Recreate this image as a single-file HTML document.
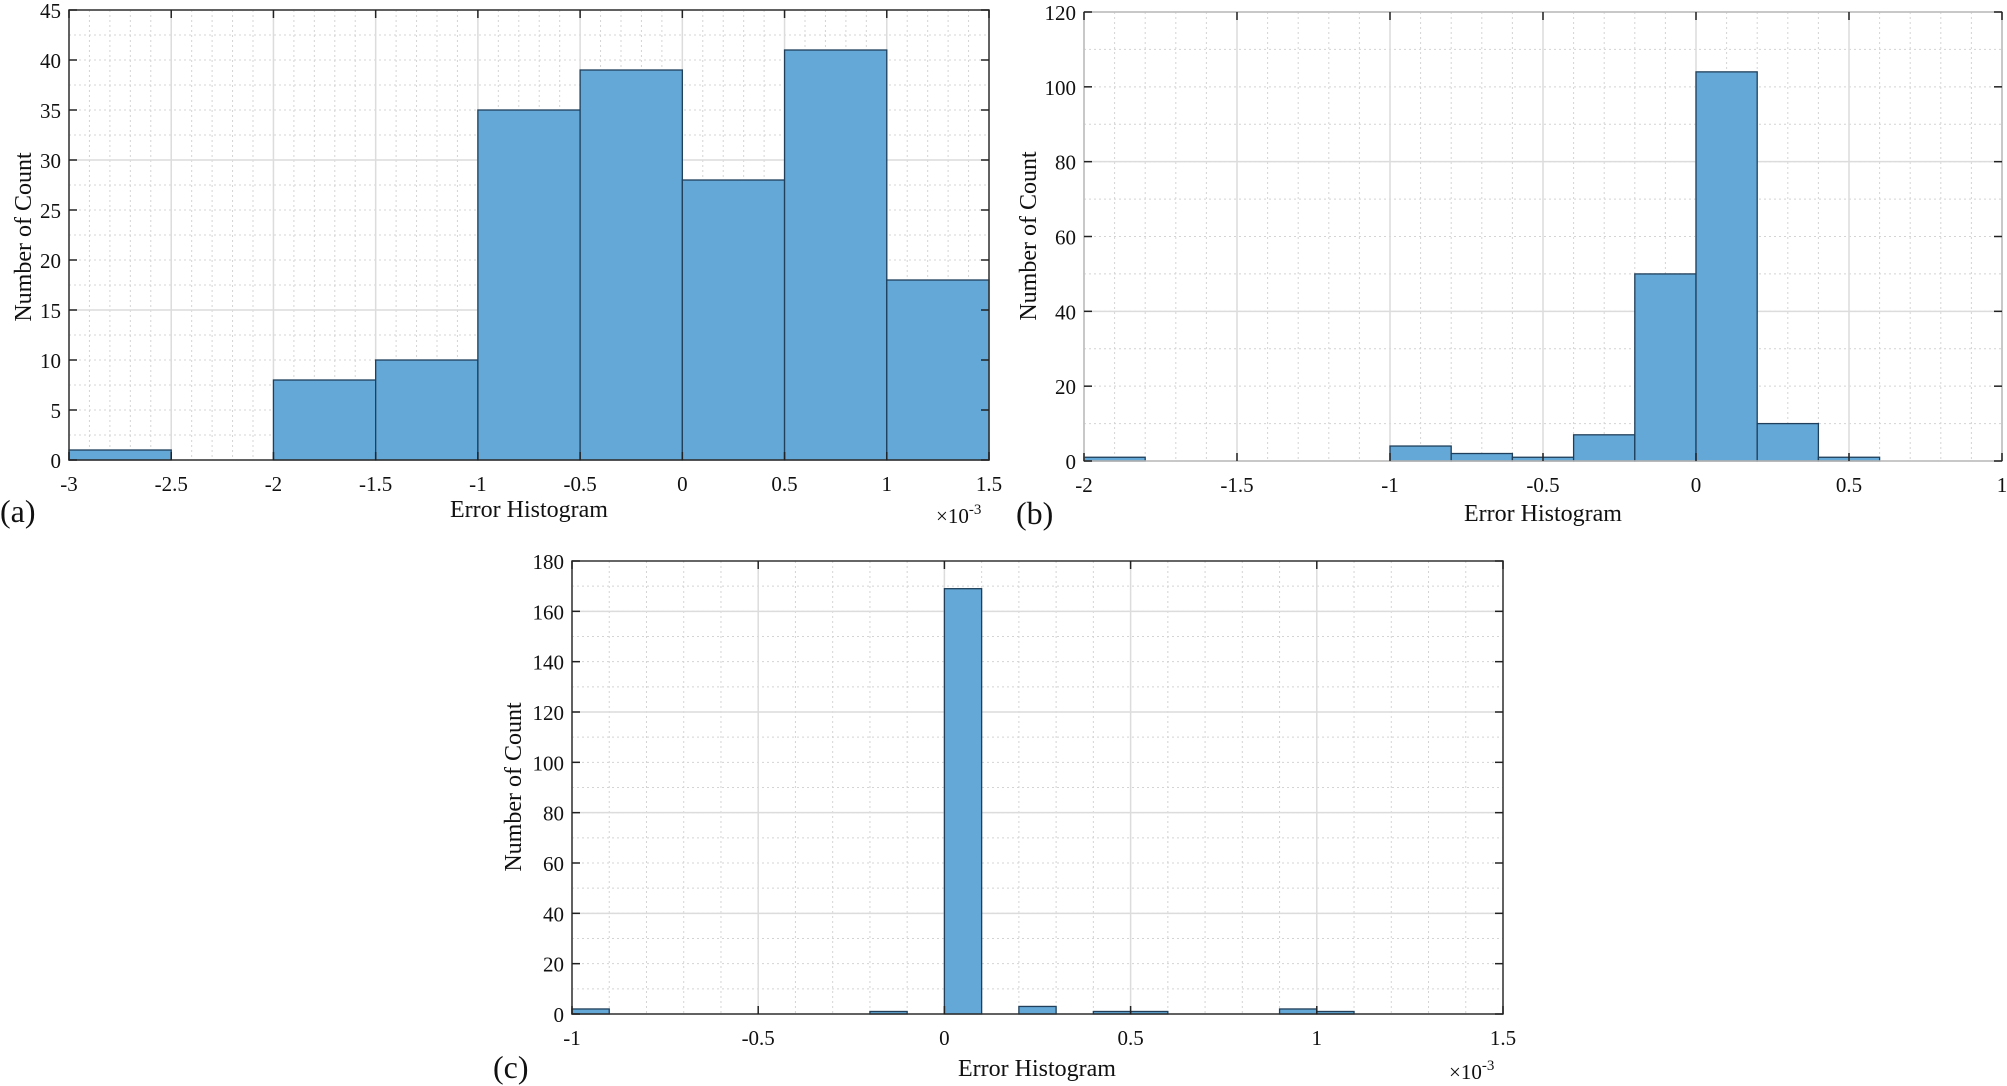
<!DOCTYPE html>
<html><head><meta charset="utf-8"><style>
html,body{margin:0;padding:0;background:#fff;width:2007px;height:1086px;overflow:hidden}
svg text{font-family:"Liberation Serif",serif;fill:#111}
</style></head><body>
<svg id="s" width="2007" height="1086" xmlns="http://www.w3.org/2000/svg"></svg>
<script>
const s=document.getElementById('s');let h='';
function panel(o){
 const {L,R,T,B,x0,x1,y1,xmaj,xmin,ymaj,ymin,bars,bw,xt,yt}=o;
 const X=v=>L+(v-x0)/(x1-x0)*(R-L), Y=v=>B-v/y1*(B-T);
 // minor grid
 for(let v=x0;v<=x1+1e-9;v+=xmin){const x=X(v);h+=`<line x1="${x}" y1="${T}" x2="${x}" y2="${B}" stroke="#d4d4d4" stroke-width="1" stroke-dasharray="2,3"/>`;}
 for(let v=0;v<=y1+1e-9;v+=ymin){const y=Y(v);h+=`<line x1="${L}" y1="${y}" x2="${R}" y2="${y}" stroke="#d4d4d4" stroke-width="1" stroke-dasharray="2,3"/>`;}
 for(let v=x0;v<=x1+1e-9;v+=xmaj){const x=X(v);h+=`<line x1="${x}" y1="${T}" x2="${x}" y2="${B}" stroke="#dcdcdc" stroke-width="1.5"/>`;}
 for(let v=0;v<=y1+1e-9;v+=ymaj){const y=Y(v);h+=`<line x1="${L}" y1="${y}" x2="${R}" y2="${y}" stroke="#dcdcdc" stroke-width="1.5"/>`;}
 bars.forEach(b=>{const [a,c]=b;const x=X(a),w=X(a+bw)-x,y=Y(c);
  h+=`<rect x="${x}" y="${y}" width="${w}" height="${B-y}" fill="#64a8d8" stroke="#1f3f5a" stroke-width="1.3"/>`;});
 h+=`<rect x="${L}" y="${T}" width="${R-L}" height="${B-T}" fill="none" stroke="${o.bc||'#333'}" stroke-width="1.5"/>`;
 xt.forEach(v=>{const x=X(v);h+=`<line x1="${x}" y1="${T}" x2="${x}" y2="${T+8}" stroke="#222" stroke-width="1.5"/><line x1="${x}" y1="${B}" x2="${x}" y2="${B-8}" stroke="#222" stroke-width="1.5"/><text x="${x}" y="${B+31}" font-size="21" text-anchor="middle">${v}</text>`;});
 yt.forEach(v=>{const y=Y(v);h+=`<line x1="${L}" y1="${y}" x2="${L+8}" y2="${y}" stroke="#222" stroke-width="1.5"/><line x1="${R}" y1="${y}" x2="${R-8}" y2="${y}" stroke="#222" stroke-width="1.5"/><text x="${L-8}" y="${y+8}" font-size="21" text-anchor="end">${v}</text>`;});
}
panel({L:69,R:989,T:10,B:460,x0:-3,x1:1.5,y1:45,xmaj:0.5,xmin:0.1,ymaj:15,ymin:2.5,bw:0.5,
 bars:[[-3,1],[-2.5,0],[-2,8],[-1.5,10],[-1,35],[-0.5,39],[0,28],[0.5,41],[1,18]],
 xt:[-3,-2.5,-2,-1.5,-1,-0.5,0,0.5,1,1.5],yt:[0,5,10,15,20,25,30,35,40,45]});
panel({L:1084,R:2002,T:12,B:461,x0:-2,x1:1,y1:120,xmaj:0.5,xmin:0.1,ymaj:40,ymin:10,bw:0.2,bc:'#bbb',
 bars:[[-2,1],[-1,4],[-0.8,2],[-0.6,1],[-0.4,7],[-0.2,50],[0,104],[0.2,10],[0.4,1]],
 xt:[-2,-1.5,-1,-0.5,0,0.5,1],yt:[0,20,40,60,80,100,120]});
panel({L:572,R:1503,T:561,B:1014,x0:-1,x1:1.5,y1:180,xmaj:0.5,xmin:0.1,ymaj:40,ymin:10,bw:0.1,
 bars:[[-1,2],[-0.2,1],[0,169],[0.2,3],[0.4,1],[0.5,1],[0.9,2],[1.0,1]],
 xt:[-1,-0.5,0,0.5,1,1.5],yt:[0,20,40,60,80,100,120,140,160,180]});
// labels
h+=`<text x="529" y="517" font-size="24" text-anchor="middle">Error Histogram</text>`;
h+=`<text x="1543" y="521" font-size="24" text-anchor="middle">Error Histogram</text>`;
h+=`<text x="1037" y="1076" font-size="24" text-anchor="middle">Error Histogram</text>`;
h+=`<text x="0" y="522" font-size="32">(a)</text>`;
h+=`<text x="1016" y="524" font-size="32">(b)</text>`;
h+=`<text x="493" y="1078" font-size="32">(c)</text>`;
h+=`<text transform="translate(31,237) rotate(-90)" font-size="24" text-anchor="middle">Number of Count</text>`;
h+=`<text transform="translate(1036,236) rotate(-90)" font-size="24" text-anchor="middle">Number of Count</text>`;
h+=`<text transform="translate(521,787) rotate(-90)" font-size="24" text-anchor="middle">Number of Count</text>`;
h+=`<text x="936" y="523" font-size="21">×10<tspan dy="-9" font-size="15">-3</tspan></text>`;
h+=`<text x="1449" y="1079" font-size="21">×10<tspan dy="-9" font-size="15">-3</tspan></text>`;
s.innerHTML=h;
</script>
</body></html>
